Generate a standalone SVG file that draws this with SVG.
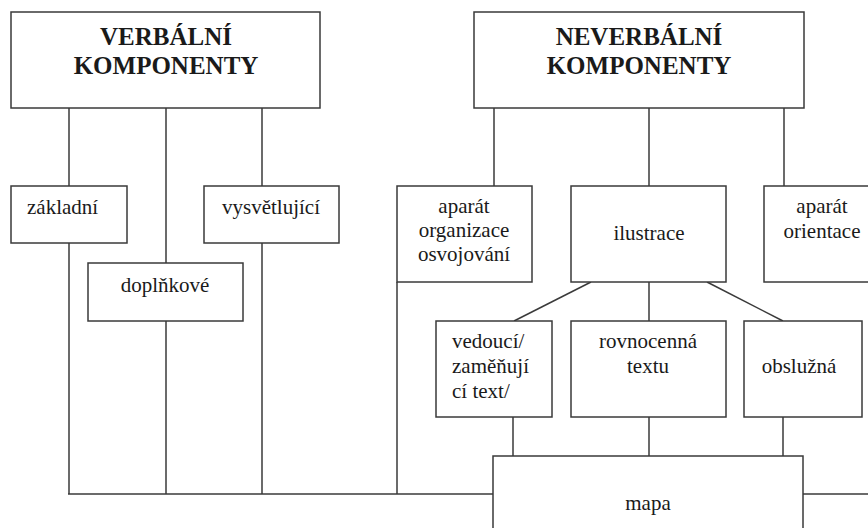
<svg xmlns="http://www.w3.org/2000/svg" width="868" height="528" viewBox="0 0 868 528">
<style>
.bg{fill:#ffffff}
.box{fill:#ffffff;stroke:#3a3a3a;stroke-width:1.5}
.ln{fill:none;stroke:#3a3a3a;stroke-width:1.5}
</style>
<rect class="bg" x="0" y="0" width="868" height="528"/>
<g id="connectors">
<line class="ln" x1="69" y1="108" x2="69" y2="186"/>
<line class="ln" x1="166" y1="108" x2="166" y2="263"/>
<line class="ln" x1="262" y1="108" x2="262" y2="186"/>
<line class="ln" x1="69" y1="243" x2="69" y2="494"/>
<line class="ln" x1="166" y1="321" x2="166" y2="494"/>
<line class="ln" x1="262" y1="243" x2="262" y2="494"/>
<line class="ln" x1="397" y1="282" x2="397" y2="494"/>
<line class="ln" x1="68" y1="494" x2="493" y2="494"/>
<line class="ln" x1="803" y1="494" x2="868" y2="494"/>
<line class="ln" x1="494" y1="108" x2="494" y2="186"/>
<line class="ln" x1="649" y1="108" x2="649" y2="186"/>
<line class="ln" x1="784" y1="108" x2="784" y2="186"/>
<line class="ln" x1="591" y1="282" x2="514" y2="321"/>
<line class="ln" x1="649" y1="282" x2="649" y2="321"/>
<line class="ln" x1="707" y1="282" x2="783" y2="321"/>
<line class="ln" x1="513" y1="417" x2="513" y2="456"/>
<line class="ln" x1="649" y1="417" x2="649" y2="456"/>
<line class="ln" x1="783" y1="417" x2="783" y2="456"/>
</g>
<g id="nodes" font-family="Liberation Serif, serif" font-size="21px" fill="#1a1a1a">
<g id="verbalni">
<rect class="box" x="11" y="12" width="309" height="96"/>
<text x="166" y="45" text-anchor="middle" font-weight="bold" font-size="25px">VERBÁLNÍ</text>
<text x="166" y="74" text-anchor="middle" font-weight="bold" font-size="25px">KOMPONENTY</text>
</g>
<g id="neverbalni">
<rect class="box" x="474" y="12" width="330" height="96"/>
<text x="639" y="45" text-anchor="middle" font-weight="bold" font-size="25px">NEVERBÁLNÍ</text>
<text x="639" y="74" text-anchor="middle" font-weight="bold" font-size="25px">KOMPONENTY</text>
</g>
<g id="zakladni">
<rect class="box" x="11" y="186" width="116" height="57"/>
<text x="27" y="214">základní</text>
</g>
<g id="vysvetlujici">
<rect class="box" x="204" y="186" width="135" height="57"/>
<text x="271" y="214" text-anchor="middle">vysvětlující</text>
</g>
<g id="doplnkove">
<rect class="box" x="88" y="263" width="155" height="58"/>
<text x="165" y="292" text-anchor="middle">doplňkové</text>
</g>
<g id="aparat-organizace">
<rect class="box" x="397" y="186" width="135" height="96"/>
<text x="464" y="213" text-anchor="middle">aparát</text>
<text x="464" y="237" text-anchor="middle">organizace</text>
<text x="464" y="261" text-anchor="middle">osvojování</text>
</g>
<g id="ilustrace">
<rect class="box" x="571" y="186" width="155" height="96"/>
<text x="649" y="240" text-anchor="middle">ilustrace</text>
</g>
<g id="aparat-orientace">
<rect class="box" x="764" y="186" width="116" height="96"/>
<text x="822" y="213" text-anchor="middle">aparát</text>
<text x="822" y="238" text-anchor="middle">orientace</text>
</g>
<g id="vedouci">
<rect class="box" x="436" y="321" width="116" height="96"/>
<text x="452" y="348">vedoucí/</text>
<text x="452" y="373">zaměňují</text>
<text x="452" y="398">cí text/</text>
</g>
<g id="rovnocenna">
<rect class="box" x="571" y="321" width="155" height="96"/>
<text x="648" y="348" text-anchor="middle">rovnocenná</text>
<text x="648" y="373" text-anchor="middle">textu</text>
</g>
<g id="obsluzna">
<rect class="box" x="744" y="321" width="118" height="96"/>
<text x="799" y="373" text-anchor="middle">obslužná</text>
</g>
<g id="mapa">
<rect class="box" x="493" y="456" width="310" height="84"/>
<text x="648" y="510" text-anchor="middle">mapa</text>
</g>
</g>
</svg>
